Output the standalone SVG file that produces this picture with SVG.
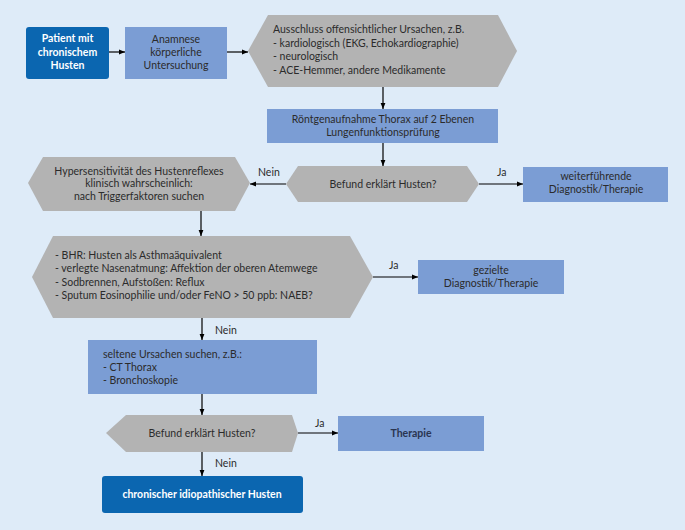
<svg xmlns="http://www.w3.org/2000/svg" width="685" height="530" viewBox="0 0 685 530">
<style>
.bg{fill:#deebf8}
.dark{fill:#0b66b0}
.mid{fill:#7b9dd4}
.hex{fill:#b3b3b3}
text{font-family:Lato,"Liberation Sans",sans-serif;font-size:10.5px;fill:#2b2b2b}
.w{fill:#fff;font-weight:bold}
.c{text-anchor:middle}
.e{stroke:#000;stroke-width:1.2;fill:none;marker-end:url(#ah)}
</style>
<defs>
<marker id="ah" viewBox="0 0 10 10" refX="10" refY="5" markerWidth="8" markerHeight="6" markerUnits="userSpaceOnUse" orient="auto">
<path d="M0,1 L10,5 L0,9 Z" fill="#000"/>
</marker>
</defs>
<rect class="bg" x="0" y="0" width="685" height="530"/>
<g id="connectors">
<path class="e" d="M109,52 H125"/>
<path class="e" d="M227,52 H248"/>
<path class="e" d="M383,87 V109"/>
<path class="e" d="M383,143 V166"/>
<path class="e" d="M286,184 H250"/>
<path class="e" d="M479,184 H523"/>
<path class="e" d="M201,211 V236"/>
<path class="e" d="M373,277 H418"/>
<path class="e" d="M202,318 V340"/>
<path class="e" d="M202,394 V415"/>
<path class="e" d="M298,433 H338"/>
<path class="e" d="M202,452 V476"/>
<text x="258" y="176">Nein</text>
<text x="497" y="176">Ja</text>
<text x="389" y="269">Ja</text>
<text x="215" y="334">Nein</text>
<text x="315" y="427">Ja</text>
<text x="215" y="467">Nein</text>
</g>
<g id="n1">
<rect class="dark" x="26" y="27" width="83" height="52" rx="3"/>
<text class="c w" x="67.5" y="42">Patient mit</text>
<text class="c w" x="67.5" y="56">chronischem</text>
<text class="c w" x="67.5" y="69">Husten</text>
</g>
<g id="n2">
<rect class="mid" x="125" y="27" width="102" height="52"/>
<text class="c" x="176" y="43">Anamnese</text>
<text class="c" x="176" y="56">körperliche</text>
<text class="c" x="176" y="69">Untersuchung</text>
</g>
<g id="n3">
<polygon class="hex" points="248,51 268,15 498,15 517,51 498,87 268,87"/>
<text x="273" y="33">Ausschluss offensichtlicher Ursachen, z.B.</text>
<text x="273" y="47">- kardiologisch (EKG, Echokardiographie)</text>
<text x="273" y="60">- neurologisch</text>
<text x="273" y="74">- ACE-Hemmer, andere Medikamente</text>
</g>
<g id="n4">
<rect class="mid" x="267" y="109" width="231" height="34"/>
<text class="c" x="383" y="123">Röntgenaufnahme Thorax auf 2 Ebenen</text>
<text class="c" x="383" y="136">Lungenfunktionsprüfung</text>
</g>
<g id="n5">
<polygon class="hex" points="286,184 298,166 467,166 479,184 467,202 298,202"/>
<text class="c" x="383" y="188">Befund erklärt Husten?</text>
</g>
<g id="n6">
<polygon class="hex" points="28,183 43,157 235,157 250,183 235,211 43,211"/>
<text class="c" x="139" y="175">Hypersensitivität des Hustenreflexes</text>
<text class="c" x="139" y="187">klinisch wahrscheinlich:</text>
<text class="c" x="139" y="200">nach Triggerfaktoren suchen</text>
</g>
<g id="n7">
<rect class="mid" x="523" y="167" width="145" height="35"/>
<text class="c" x="596" y="180">weiterführende</text>
<text class="c" x="596" y="193">Diagnostik/Therapie</text>
</g>
<g id="n8">
<polygon class="hex" points="32,277 53,236 350,236 373,277 350,318 53,318"/>
<text x="55" y="259">- BHR: Husten als Asthmaäquivalent</text>
<text x="55" y="272">- verlegte Nasenatmung: Affektion der oberen Atemwege</text>
<text x="55" y="286">- Sodbrennen, Aufstoßen: Reflux</text>
<text x="55" y="299">- Sputum Eosinophilie und/oder FeNO &gt; 50 ppb: NAEB?</text>
</g>
<g id="n9">
<rect class="mid" x="418" y="260" width="146" height="34"/>
<text class="c" x="491" y="274">gezielte</text>
<text class="c" x="491" y="287">Diagnostik/Therapie</text>
</g>
<g id="n10">
<rect class="mid" x="88" y="340" width="229" height="54"/>
<text x="103" y="358">seltene Ursachen suchen, z.B.:</text>
<text x="103" y="371">- CT Thorax</text>
<text x="103" y="384">- Bronchoskopie</text>
</g>
<g id="n11">
<polygon class="hex" points="106,433 126,415 292,415 298,433 292,452 126,452"/>
<text class="c" x="202" y="437">Befund erklärt Husten?</text>
</g>
<g id="n12">
<rect class="mid" x="338" y="416" width="146" height="35"/>
<text class="c" x="411" y="437" style="font-weight:bold;fill:#2a3550">Therapie</text>
</g>
<g id="n13">
<rect class="dark" x="102" y="476" width="201" height="37" rx="3"/>
<text class="c w" x="202" y="498">chronischer idiopathischer Husten</text>
</g>
</svg>
